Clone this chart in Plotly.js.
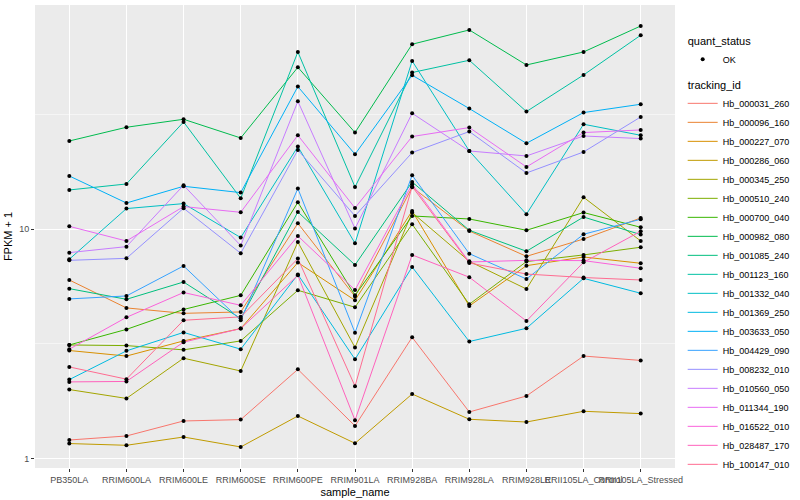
<!DOCTYPE html>
<html><head><meta charset="utf-8">
<script src="https://cdn.plot.ly/plotly-3.0.1.min.js"></script>
<style>html,body{margin:0;padding:0;background:#fff}#chart{width:800px;height:500px}</style>
</head><body><div id="chart"></div>
<script>
// categories
const samples = ["PB350LA","RRIM600LA","RRIM600LE","RRIM600SE","RRIM600PE","RRIM901LA","RRIM928BA","RRIM928LA","RRIM928LE","RRII105LA_Control","RRII105LA_Stressed"];

// FPKM + 1 per tracking_id
const Hb_000031_260 = [1.205,1.255,1.459,1.479,2.45,1.388,3.38,1.597,1.875,2.80,2.68];
const Hb_000096_160 = [6.01,4.54,4.30,4.36,10.62,5.09,15.25,9.83,7.62,9.07,11.20];
const Hb_000227_070 = [2.96,2.80,3.26,3.69,7.16,4.90,12.02,4.63,6.94,7.57,7.11];
const Hb_000286_060 = [1.163,1.143,1.242,1.124,1.534,1.166,1.913,1.484,1.444,1.608,1.571];
const Hb_000345_250 = [2.00,1.83,2.74,2.41,8.80,3.05,11.83,7.25,5.49,13.79,8.89];
const Hb_000510_240 = [3.13,3.11,2.98,3.26,5.42,4.57,10.52,4.71,7.23,7.73,8.35];
const Hb_000700_040 = [3.13,3.66,4.47,5.15,13.11,5.15,11.43,11.09,9.90,11.83,10.20];
const Hb_000982_080 = [24.27,27.85,30.18,25.01,50.87,26.41,64.11,74.0,52.06,59.33,77.0];
const Hb_001085_240 = [5.51,4.95,5.89,4.08,11.90,6.99,16.08,9.90,8.02,11.31,9.48];
const Hb_001123_160 = [14.84,15.76,29.38,13.65,59.33,15.29,48.25,54.58,32.61,47.10,70.18];
const Hb_001332_040 = [7.40,12.31,12.94,9.20,22.94,8.69,54.2,21.95,11.63,28.71,25.70];
const Hb_001369_250 = [2.21,2.95,3.55,3.00,6.35,2.71,6.85,3.24,3.70,6.11,5.26];
const Hb_003633_050 = [17.08,13.02,15.40,14.45,41.91,21.24,46.96,33.61,23.71,32.28,35.09];
const Hb_004429_090 = [4.97,5.12,6.92,4.01,15.05,3.54,17.20,7.83,6.07,9.51,11.06];
const Hb_008232_010 = [7.32,7.47,12.35,7.86,22.17,11.43,21.60,26.68,17.60,21.73,30.89];
const Hb_010560_050 = [7.91,8.40,15.56,8.49,36.16,10.07,32.06,21.95,20.88,25.52,24.86];
const Hb_011344_190 = [10.30,8.89,12.56,11.86,25.70,12.38,25.37,27.77,18.70,26.41,27.11];
const Hb_016522_010 = [3.00,4.13,5.30,4.66,9.35,5.44,15.71,7.20,7.32,7.30,6.76];
const Hb_028487_170 = [2.16,2.17,3.22,3.69,6.30,1.47,7.73,6.18,3.98,7.18,9.80];
const Hb_100147_010 = [2.51,2.22,4.01,4.15,7.45,2.07,15.36,7.13,6.38,6.16,6.01];

const trackingIds = ["Hb_000031_260","Hb_000096_160","Hb_000227_070","Hb_000286_060","Hb_000345_250","Hb_000510_240","Hb_000700_040","Hb_000982_080","Hb_001085_240","Hb_001123_160","Hb_001332_040","Hb_001369_250","Hb_003633_050","Hb_004429_090","Hb_008232_010","Hb_010560_050","Hb_011344_190","Hb_016522_010","Hb_028487_170","Hb_100147_010"];
const seriesValues = [Hb_000031_260,Hb_000096_160,Hb_000227_070,Hb_000286_060,Hb_000345_250,Hb_000510_240,Hb_000700_040,Hb_000982_080,Hb_001085_240,Hb_001123_160,Hb_001332_040,Hb_001369_250,Hb_003633_050,Hb_004429_090,Hb_008232_010,Hb_010560_050,Hb_011344_190,Hb_016522_010,Hb_028487_170,Hb_100147_010];
const colors = ["#F8766D","#EA8331","#D89000","#C09B00","#A3A500","#7CAE00","#39B600","#00BB4E","#00BF7D","#00C1A3","#00BFC4","#00BAE0","#00B0F6","#35A2FF","#9590FF","#C77CFF","#E76BF3","#FA62DB","#FF62BC","#FF6C91"];
const yTicks = [1, 10];
const yMinor = [Math.sqrt(10), Math.sqrt(1000)];

const traces = [];
trackingIds.forEach((id, i) => {
  const t = {
    x: samples, y: seriesValues[i], type: 'scatter', mode: 'lines',
    name: id, line: {color: colors[i], width: 1},
    legendgroup: 'tracking_id', legendrank: 10 + i, hoverinfo: 'skip'
  };
  if (i === 0) t.legendgrouptitle = {text: 'tracking_id', font: {size: 11, color: '#000'}};
  traces.push(t);
});
trackingIds.forEach((id, i) => {
  const t = {
    x: samples, y: seriesValues[i], type: 'scatter', mode: 'markers',
    name: 'OK', marker: {color: '#000', size: 4},
    legendgroup: 'quant_status', legendrank: 1, showlegend: i === 0, hoverinfo: 'skip'
  };
  if (i === 0) t.legendgrouptitle = {text: 'quant_status', font: {size: 11, color: '#000'}};
  traces.push(t);
});

const layout = {
  width: 800, height: 500,
  margin: {l: 35, r: 117, t: 5, b: 32},
  paper_bgcolor: '#fff', plot_bgcolor: '#EBEBEB',
  font: {family: 'Liberation Sans, Arial, sans-serif', size: 9, color: '#4D4D4D'},
  showlegend: true,
  legend: {x: 1.012, xanchor: 'left', y: 0.955, yanchor: 'top', traceorder: 'grouped',
           tracegroupgap: 6, itemwidth: 30, font: {size: 9, color: '#000'}, bgcolor: 'rgba(0,0,0,0)'},
  xaxis: {
    type: 'category', range: [-0.6, 10.6], tickangle: 0,
    showgrid: true, gridcolor: '#fff', gridwidth: 1, zeroline: false, showline: false,
    ticks: 'outside', ticklen: 3, tickcolor: '#333', tickfont: {size: 9, color: '#4D4D4D'},
    title: {text: 'sample_name', font: {size: 11, color: '#000'}, standoff: 4}
  },
  yaxis: {
    type: 'log', range: [-0.041, 1.978],
    tickvals: yTicks, ticktext: yTicks.map(String),
    showgrid: true, gridcolor: '#fff', gridwidth: 1, zeroline: false, showline: false,
    ticks: 'outside', ticklen: 3, tickcolor: '#333', tickfont: {size: 9, color: '#4D4D4D'},
    minor: {tickvals: yMinor, showgrid: true, gridcolor: '#fff', gridwidth: 0.5, ticklen: 0},
    title: {text: 'FPKM + 1', font: {size: 11, color: '#000'}, standoff: 4}
  }
};
Plotly.newPlot('chart', traces, layout, {displayModeBar: false, staticPlot: true});
</script></body></html>
